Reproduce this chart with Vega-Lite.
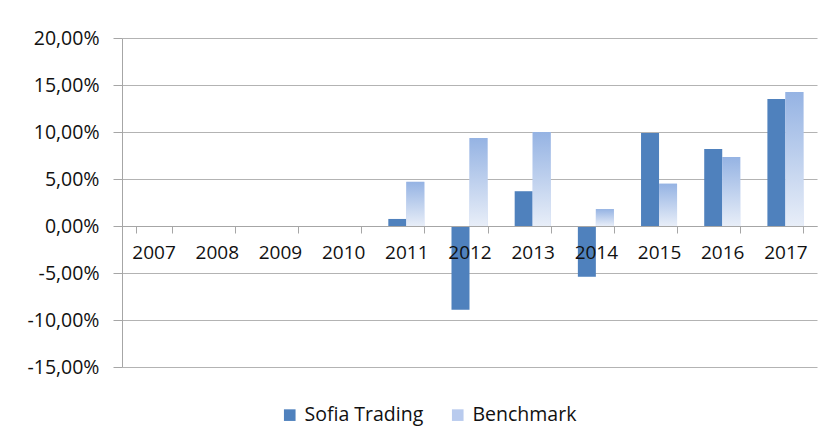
{
  "$schema": "https://vega.github.io/schema/vega-lite/v6.json",
  "width": 695,
  "height": 329,
  "autosize": {"type": "none"},
  "padding": {"left": 122, "top": 38, "right": 16, "bottom": 76},
  "background": "white",
  "data": {
    "values": [
      {"year": "2007", "series": "Sofia Trading", "value": 0},
      {"year": "2007", "series": "Benchmark", "value": 0},
      {"year": "2008", "series": "Sofia Trading", "value": 0},
      {"year": "2008", "series": "Benchmark", "value": 0},
      {"year": "2009", "series": "Sofia Trading", "value": 0},
      {"year": "2009", "series": "Benchmark", "value": 0},
      {"year": "2010", "series": "Sofia Trading", "value": 0},
      {"year": "2010", "series": "Benchmark", "value": 0},
      {"year": "2011", "series": "Sofia Trading", "value": 0.0075},
      {"year": "2011", "series": "Benchmark", "value": 0.047},
      {"year": "2012", "series": "Sofia Trading", "value": -0.089},
      {"year": "2012", "series": "Benchmark", "value": 0.0935},
      {"year": "2013", "series": "Sofia Trading", "value": 0.037},
      {"year": "2013", "series": "Benchmark", "value": 0.1},
      {"year": "2014", "series": "Sofia Trading", "value": -0.054},
      {"year": "2014", "series": "Benchmark", "value": 0.018},
      {"year": "2015", "series": "Sofia Trading", "value": 0.099},
      {"year": "2015", "series": "Benchmark", "value": 0.045},
      {"year": "2016", "series": "Sofia Trading", "value": 0.082},
      {"year": "2016", "series": "Benchmark", "value": 0.0735},
      {"year": "2017", "series": "Sofia Trading", "value": 0.135},
      {"year": "2017", "series": "Benchmark", "value": 0.1425}
    ]
  },
  "encoding": {
    "x": {
      "field": "year",
      "type": "nominal",
      "scale": {"paddingInner": 0.43, "paddingOuter": 0.215},
      "axis": {
        "orient": "bottom",
        "offset": -141,
        "title": null,
        "labelAngle": 0,
        "tickBand": "extent",
        "tickSize": 7,
        "labelPadding": 10,
        "domainColor": "#A6A6A6",
        "tickColor": "#A6A6A6",
        "labelFontSize": 19,
        "labelFont": "Open Sans",
        "labelColor": "#111111",
        "zindex": 1
      }
    },
    "xOffset": {
      "field": "series",
      "type": "nominal",
      "sort": ["Sofia Trading", "Benchmark"],
      "scale": {"paddingInner": 0}
    },
    "y": {
      "field": "value",
      "type": "quantitative",
      "scale": {"domain": [-0.15, 0.2], "nice": false},
      "axis": {
        "title": null,
        "values": [-0.15, -0.1, -0.05, 0, 0.05, 0.1, 0.15, 0.2],
        "labelExpr": "replace(replace(format(datum.value, '.2%'), '.', ','), '\u2212', '-')",
        "grid": true,
        "gridColor": "#B3B3B3",
        "gridWidth": 1.2,
        "domainColor": "#A6A6A6",
        "tickColor": "#A6A6A6",
        "tickSize": 9,
        "labelPadding": 14,
        "labelFontSize": 19.5,
        "labelFont": "Open Sans",
        "labelColor": "#111111"
      }
    }
  },
  "layer": [
    {
      "mark": {"type": "bar"},
      "encoding": {
        "color": {
          "field": "series",
          "type": "nominal",
          "scale": {
            "domain": ["Sofia Trading", "Benchmark"],
            "range": ["#4F81BD", "#B9CBEE"]
          },
          "legend": {
            "title": null,
            "orient": "none",
            "legendX": 158,
            "legendY": 367,
            "direction": "horizontal",
            "symbolType": "square",
            "symbolSize": 135,
            "symbolStrokeWidth": 0,
            "labelFontSize": 19.5,
            "labelFont": "Open Sans",
            "labelColor": "#111111",
            "columnPadding": 24,
            "labelOffset": 5,
            "padding": 0
          }
        }
      }
    },
    {
      "transform": [{"filter": "datum.series === 'Benchmark'"}],
      "mark": {
        "type": "bar",
        "fill": {
          "gradient": "linear", "x1": 0, "y1": 0, "x2": 0, "y2": 1,
          "stops": [{"offset": 0, "color": "#95B3E3"}, {"offset": 1, "color": "#E8EEF8"}]
        }
      }
    }
  ],
  "config": {"view": {"stroke": null}}
}
